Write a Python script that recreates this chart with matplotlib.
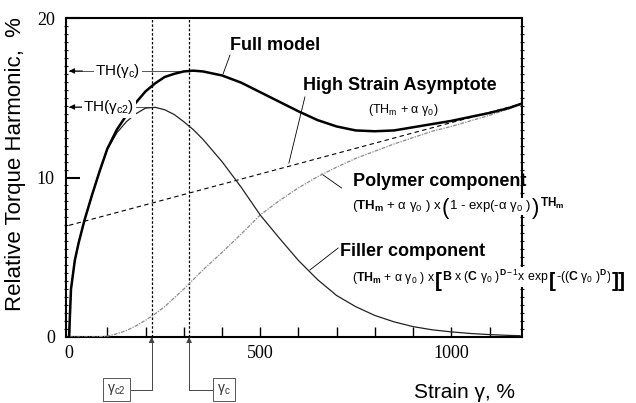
import matplotlib
matplotlib.use('Agg')
import matplotlib.pyplot as plt
from matplotlib.ticker import MultipleLocator

plt.rcParams['mathtext.fontset'] = 'custom'
plt.rcParams['mathtext.rm'] = 'Liberation Sans'
plt.rcParams['mathtext.it'] = 'Liberation Sans:italic'
plt.rcParams['mathtext.bf'] = 'Liberation Sans:bold'
plt.rcParams['mathtext.sf'] = 'Liberation Sans'
plt.rcParams['font.family'] = ['Liberation Sans', 'DejaVu Sans']

# strain, % and the curves
gamma = [0, 5, 15, 25, 40, 60, 80, 100, 125, 150, 175, 200, 225, 250, 275, 300,
         325, 350, 400, 450, 500, 550, 600, 650, 700, 750, 800, 850, 900, 950,
         1000, 1050, 1100, 1150, 1180]
full = [0, 3.0, 4.8, 5.9, 7.3, 8.9, 10.4, 11.8, 13.0, 13.9, 14.7, 15.4, 15.9,
        16.3, 16.5, 16.65, 16.7, 16.65, 16.4, 15.95, 15.35, 14.75, 14.15, 13.6,
        13.2, 12.95, 12.9, 12.95, 13.15, 13.35, 13.55, 13.8, 14.05, 14.35, 14.6]
filler = [0, 3.0, 4.8, 5.9, 7.3, 8.9, 10.4, 11.75, 12.8, 13.5, 14.0, 14.35, 14.4,
          14.25, 13.95, 13.5, 13.0, 12.4, 11.0, 9.4, 7.65, 6.2, 4.8, 3.6, 2.6,
          1.9, 1.35, 0.95, 0.65, 0.45, 0.32, 0.22, 0.15, 0.1, 0.08]
polymer = [0, 0, 0, 0, 0, 0, 0.02, 0.05, 0.2, 0.4, 0.7, 1.05, 1.45, 1.9, 2.45,
           3.0, 3.6, 4.2, 5.3, 6.45, 7.65, 8.55, 9.35, 10.05, 10.65, 11.2, 11.65,
           12.1, 12.5, 12.9, 13.2, 13.55, 13.9, 14.3, 14.55]
asym_gamma = [0, 1180]
asym = [7.0, 14.6]

gamma_c2 = 216
gamma_c = 314
th_c = 16.68
th_c2 = 14.42

fig = plt.figure(figsize=(6.36, 4.03), dpi=100)
ax = fig.add_axes([0.1038, 0.1638, 0.7170, 0.7915])

ax.plot(gamma, full, color='k', lw=1.8, zorder=5)
ax.plot(gamma, filler, color='#222222', lw=0.9, zorder=4)
ax.plot(gamma, polymer, color='#8a8a8a', lw=0.9, ls=(0, (3, 1, 1, 1)), zorder=3)
ax.plot(asym_gamma, asym, color='k', lw=0.8, ls=(0, (4, 3)), zorder=3)

ax.axvline(gamma_c2, color='k', lw=0.9, ls=(0, (2, 1.5)))
ax.axvline(gamma_c, color='k', lw=0.9, ls=(0, (2, 1.5)))

ax.set_xlim(-8, 1185)
ax.set_ylim(0, 20)

# ticks
ax.set_xticks([0, 500, 1000])
ax.xaxis.set_minor_locator(MultipleLocator(100))
ax.set_yticks([0, 10, 20])
ax.yaxis.set_minor_locator(MultipleLocator(0.5))
ax.tick_params(axis='x', which='both', direction='in', length=7, width=1)
ax.tick_params(axis='y', which='major', direction='in', length=10, width=1.5)
ax.tick_params(axis='y', which='minor', direction='inout', length=3.5, width=0.8,
               left=True, right=True)
ax.tick_params(axis='x', which='major', pad=6)
ax.tick_params(axis='y', which='major', pad=8)
for lab in ax.get_xticklabels() + ax.get_yticklabels():
    lab.set_family('Liberation Serif')
    lab.set_fontsize(13)
for s in ax.spines.values():
    s.set_linewidth(1.5)

# TH(gamma) markers
ax.plot([0, gamma_c + 10], [th_c, th_c], color='#555555', lw=0.7)
ax.plot([0, gamma_c2 + 10], [th_c2, th_c2], color='#555555', lw=0.7)
for yv in (th_c, th_c2):
    ax.annotate('', xy=(0, yv), xytext=(35, yv),
                arrowprops=dict(arrowstyle='-|>', color='k', lw=0.7,
                                mutation_scale=8, shrinkA=0, shrinkB=0))
bb = dict(boxstyle='square,pad=0.1', fc='white', ec='none')
ax.text(128, th_c, 'TH(γ$_\\mathrm{c}$)', fontsize=11, ha='center',
        va='center', bbox=bb, zorder=6)
ax.text(104, th_c2, 'TH(γ$_\\mathrm{c2}$)', fontsize=11, ha='center',
        va='center', bbox=bb, zorder=6)

# labels for the curves
ax.text(421, 18.3, 'Full model', fontsize=13, weight='bold', va='center')
ax.plot([421, 403], [17.68, 16.5], color='k', lw=0.6)
ax.text(612, 15.74, 'High Strain Asymptote', fontsize=13, weight='bold',
        va='center')
ax.plot([617, 575], [15.05, 10.9], color='k', lw=0.6)
ax.text(874, 14.23, '(TH$_\\mathrm{m}$ + α γ$_0$)', fontsize=9,
        ha='center', va='center')
ax.text(743, 9.72, 'Polymer component', fontsize=13, weight='bold',
        va='center')
ax.plot([713, 661], [9.34, 10.22], color='k', lw=0.6)
ax.text(709, 5.33, 'Filler component', fontsize=13, weight='bold',
        va='center')
ax.plot([704, 630], [5.58, 4.2], color='k', lw=0.6)

# formulas, pieces chained one after another; white behind so the spine breaks
wb = dict(boxstyle='square,pad=0.05', fc='white', ec='none')


def piece(prev, s, size, dy, **kw):
    return ax.annotate(s, xy=(1, 0), xycoords=prev, fontsize=size,
                       va='bottom', xytext=(0, dy), textcoords='offset points',
                       bbox=wb, zorder=7, **kw)


fs = 9.5
big = 16
t = ax.text(740, 8.0, '($\\mathbf{TH_m}$ + α γ$_0$ ) x ',
            fontsize=fs, va='baseline', bbox=wb, zorder=7)
t = piece(t, '(', big, -3.5)
t = piece(t, '1 - exp(-α γ$_0$ )', fs, 3.5)
t = piece(t, ')', big, -3.5)
ax.annotate('$\\mathbf{TH_m}$', xy=(1, 1), xycoords=t, fontsize=fs - 1,
            va='top', xytext=(1, 2), textcoords='offset points', zorder=7)

fs2 = 8.8
big2 = 15
t = ax.text(740, 3.5, '($\\mathbf{TH_m}$ + α γ$_0$ ) x ',
            fontsize=fs2, va='baseline', bbox=wb, zorder=7)
t = piece(t, '[', big2, -3.2, weight='bold')
t = piece(t, '$\\mathbf{B}$ x ($\\mathbf{C}$ γ$_0$ )$^{\\mathbf{D}\\,\\mathrm{-}\\,1}$x exp ',
          fs2, 3.2)
t = piece(t, '[', big2, -3.2, weight='bold')
t = piece(t, '-(($\\mathbf{C}$ γ$_0$ )$^{\\mathbf{D}}$)', fs2, 3.2)
piece(t, ']]', big2, -3.2, weight='bold')

# boxed strain markers below the axis
boxp = dict(boxstyle='square,pad=0.3', fc='white', ec='#555555', lw=0.7)
ax.annotate('γ$_\\mathrm{c2}$', xy=(gamma_c2, 0), xytext=(125, -3.3),
            fontsize=10, color='#333333', ha='center', va='center', bbox=boxp,
            annotation_clip=False,
            arrowprops=dict(arrowstyle='-|>', color='#444444', lw=0.7,
                            mutation_scale=8, shrinkA=0, shrinkB=0,
                            connectionstyle='angle,angleA=0,angleB=90,rad=0'))
ax.annotate('γ$_\\mathrm{c}$', xy=(gamma_c, 0), xytext=(405, -3.3),
            fontsize=10, color='#333333', ha='center', va='center', bbox=boxp,
            annotation_clip=False,
            arrowprops=dict(arrowstyle='-|>', color='#444444', lw=0.7,
                            mutation_scale=8, shrinkA=0, shrinkB=0,
                            connectionstyle='angle,angleA=0,angleB=90,rad=0'))

fig.text(0.025, 0.592, 'Relative Torque Harmonic,  %', rotation=90,
         fontsize=16, ha='center', va='center')
fig.text(0.731, 0.027, 'Strain γ, %', fontsize=15, ha='center',
         va='center')

fig.savefig('out.png', dpi=100)
